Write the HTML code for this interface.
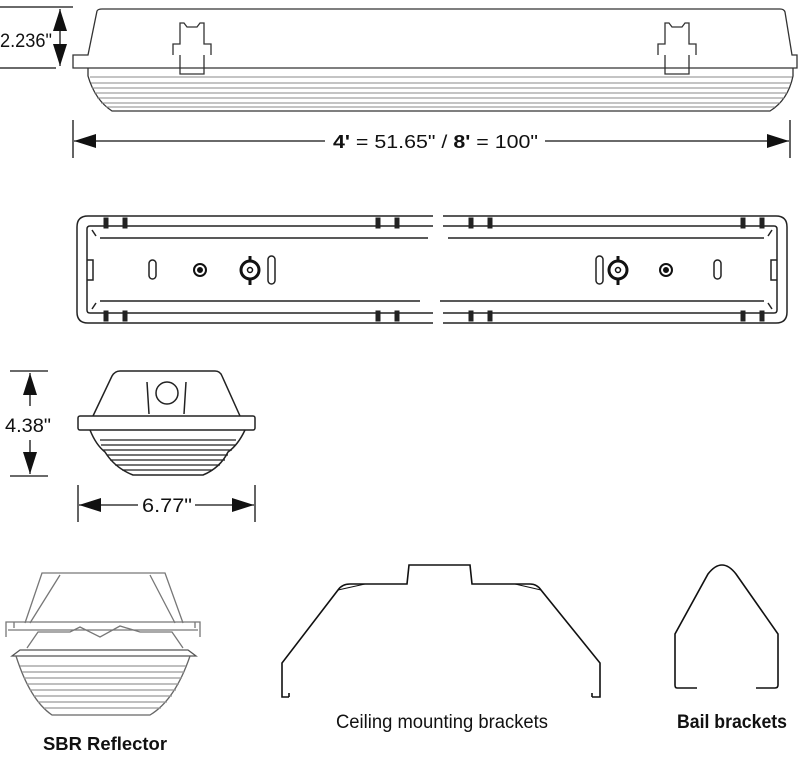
<!DOCTYPE html>
<html><head><style>
html,body{margin:0;padding:0;background:#fff;}
svg{display:block;}
text{font-family:"Liberation Sans",sans-serif;fill:#111;}
</style></head><body>
<svg width="800" height="770" viewBox="0 0 800 770" xmlns="http://www.w3.org/2000/svg">
<defs>
<marker id="ah2" viewBox="0 0 10 10" refX="10" refY="5" markerWidth="22" markerHeight="14" orient="auto-start-reverse" markerUnits="userSpaceOnUse" preserveAspectRatio="none"><path d="M0,0 L10,5 L0,10 z" fill="#111"/></marker>
</defs>
<g fill="none" stroke="#333" stroke-width="1.3">
<path d="M73,55 L88,55 L97,11 Q98,9 102,9 L780,9 Q784,9 785,12 L792,55 L797,55 L797,68 L73,68 Z"/>
<path d="M88,68 L88,76 Q95,100 112,111 L770,111 Q788,100 793,76 L793,68" />
<g stroke="#888" stroke-width="1">
<line x1="90" y1="77" x2="792" y2="77"/><line x1="91" y1="83" x2="791" y2="83"/>
<line x1="92" y1="88" x2="789" y2="88"/><line x1="94" y1="93" x2="787" y2="93"/>
<line x1="97" y1="98" x2="784" y2="98"/><line x1="101" y1="103" x2="780" y2="103"/>
<line x1="106" y1="107" x2="775" y2="107"/>
</g>
<path d="M173,55 L173,44 L180,44 L180,23 L184,23 L187,27 L197,27 L200,23 L204,23 L204,44 L211,44 L211,55" />
<path d="M180,55 L180,74 L204,74 L204,55" />
<path d="M658,55 L658,44 L665,44 L665,23 L669,23 L672,27 L682,27 L685,23 L689,23 L689,44 L696,44 L696,55" />
<path d="M665,55 L665,74 L689,74 L689,55" />
</g>
<g stroke="#111" stroke-width="1.3" fill="none">
<line x1="0" y1="7" x2="73" y2="7"/><line x1="0" y1="68" x2="56" y2="68"/>
<line x1="60" y1="9" x2="60" y2="66" marker-start="url(#ah2)" marker-end="url(#ah2)"/>
<line x1="73" y1="120" x2="73" y2="158"/><line x1="790" y1="120" x2="790" y2="158"/>
<line x1="74" y1="141" x2="325" y2="141" marker-start="url(#ah2)"/>
<line x1="545" y1="141" x2="789" y2="141" marker-end="url(#ah2)"/>
</g>
<text x="0" y="47" font-size="19" textLength="52" lengthAdjust="spacingAndGlyphs">2.236"</text>
<text x="333" y="148" font-size="18" textLength="205" lengthAdjust="spacingAndGlyphs"><tspan font-weight="bold">4'</tspan> = 51.65" / <tspan font-weight="bold">8'</tspan> = 100"</text>

<g fill="none" stroke="#222" stroke-width="1.5">
<path d="M433,216 L88,216 Q77,216 77,227 L77,312 Q77,323 88,323 L433,323"/>
<path d="M433,226 L90,226 Q87,226 87,229 L87,310 Q87,313 90,313 L433,313"/>
<line x1="100" y1="238" x2="428" y2="238"/><line x1="100" y1="301" x2="420" y2="301"/>
<path d="M443,216 L776,216 Q787,216 787,227 L787,312 Q787,323 776,323 L443,323"/>
<path d="M443,226 L774,226 Q777,226 777,229 L777,310 Q777,313 774,313 L443,313"/>
<line x1="448" y1="238" x2="764" y2="238"/><line x1="440" y1="301" x2="764" y2="301"/>
<path d="M87,260 L93,260 L93,280 L87,280"/><path d="M777,260 L771,260 L771,280 L777,280"/>
<line x1="92" y1="230" x2="96" y2="236"/><line x1="92" y1="309" x2="96" y2="303"/>
<line x1="772" y1="230" x2="768" y2="236"/><line x1="772" y1="309" x2="768" y2="303"/>
<rect x="149" y="260" width="7" height="19" rx="3.5"/>
<rect x="268" y="256" width="7" height="28" rx="3.5"/>
<rect x="714" y="260" width="7" height="19" rx="3.5"/>
<rect x="596" y="256" width="7" height="28" rx="3.5"/>
</g>
<g fill="#222" stroke="#222">
<rect x="104" y="218" width="4" height="10"/><rect x="123" y="218" width="4" height="10"/>
<rect x="104" y="311" width="4" height="10"/><rect x="123" y="311" width="4" height="10"/>
<rect x="376" y="218" width="4" height="10"/><rect x="395" y="218" width="4" height="10"/>
<rect x="376" y="311" width="4" height="10"/><rect x="395" y="311" width="4" height="10"/>
<rect x="469" y="218" width="4" height="10"/><rect x="488" y="218" width="4" height="10"/>
<rect x="469" y="311" width="4" height="10"/><rect x="488" y="311" width="4" height="10"/>
<rect x="741" y="218" width="4" height="10"/><rect x="760" y="218" width="4" height="10"/>
<rect x="741" y="311" width="4" height="10"/><rect x="760" y="311" width="4" height="10"/>
</g>
<g stroke="#111" fill="#fff">
<circle cx="200" cy="270" r="6" stroke-width="2"/><circle cx="200" cy="270" r="2.5" fill="#111"/>
<line x1="250" y1="256" x2="250" y2="285" stroke-width="3"/>
<circle cx="250" cy="270" r="9" stroke-width="3"/><circle cx="250" cy="270" r="2.5" fill="#fff" stroke-width="1.5"/>
<circle cx="666" cy="270" r="6" stroke-width="2"/><circle cx="666" cy="270" r="2.5" fill="#111"/>
<line x1="618" y1="256" x2="618" y2="285" stroke-width="3"/>
<circle cx="618" cy="270" r="9" stroke-width="3"/><circle cx="618" cy="270" r="2.5" fill="#fff" stroke-width="1.5"/>
</g>

<g fill="none" stroke="#222" stroke-width="1.5">
<path d="M93,416 L112,376 Q115,371 120,371 L215,371 Q220,371 222,376 L240,416"/>
<rect x="78" y="416" width="177" height="14" rx="2"/>
<line x1="147" y1="382" x2="149" y2="414"/><line x1="186" y1="382" x2="184" y2="414"/>
<circle cx="167" cy="393" r="11"/>
<path d="M90,430 Q96,445 105,452 Q115,468 133,475 L203,475 Q220,468 228,452 Q238,445 245,430"/>
<g stroke-width="1.2">
<line x1="100" y1="440" x2="236" y2="440"/><line x1="101" y1="445" x2="235" y2="445"/>
<line x1="103" y1="450" x2="232" y2="450"/><line x1="107" y1="455" x2="228" y2="455"/>
<line x1="110" y1="460" x2="225" y2="460"/><line x1="115" y1="465" x2="220" y2="465"/>
<line x1="122" y1="470" x2="213" y2="470"/>
</g>
</g>
<g stroke="#111" stroke-width="1.3" fill="none">
<line x1="10" y1="371" x2="48" y2="371"/><line x1="10" y1="476" x2="48" y2="476"/>
<line x1="30" y1="373" x2="30" y2="406" marker-start="url(#ah2)"/>
<line x1="30" y1="440" x2="30" y2="474" marker-end="url(#ah2)"/>
<line x1="78" y1="485" x2="78" y2="522"/><line x1="255" y1="485" x2="255" y2="522"/>
<line x1="79" y1="505" x2="138" y2="505" marker-start="url(#ah2)"/>
<line x1="195" y1="505" x2="254" y2="505" marker-end="url(#ah2)"/>
</g>
<text x="5" y="432" font-size="19" textLength="46" lengthAdjust="spacingAndGlyphs">4.38"</text>
<text x="142" y="512" font-size="19" textLength="50" lengthAdjust="spacingAndGlyphs">6.77"</text>

<g fill="none" stroke="#777" stroke-width="1.3">
<path d="M25,623 L42,573 L165,573 L183,623"/>
<path d="M30,623 L60,575 M175,623 L150,575"/>
<path d="M6,637 L6,622 L14,622 L14,628 M14,622 L195,622 L195,628 M195,622 L200,622 L200,637"/>
<line x1="8" y1="630" x2="198" y2="630"/>
<path d="M27,648 L38,632 L70,632 L80,627 L100,637 L120,626 L140,632 L172,632 L183,648"/>
<path d="M12,656 L20,650 L188,650 L196,656 L12,656 Z" stroke="#555"/>
<path d="M16,656 Q30,700 52,715 L150,715 Q175,700 190,656" stroke="#666"/>
<g stroke="#999" stroke-width="1.2">
<line x1="20" y1="666" x2="186" y2="666"/><line x1="22" y1="672" x2="184" y2="672"/>
<line x1="24" y1="678" x2="182" y2="678"/><line x1="27" y1="684" x2="179" y2="684"/>
<line x1="30" y1="690" x2="176" y2="690"/><line x1="34" y1="696" x2="172" y2="696"/>
<line x1="38" y1="702" x2="167" y2="702"/><line x1="44" y1="708" x2="161" y2="708"/>
</g>
</g>
<text x="105" y="750" font-size="18" font-weight="bold" text-anchor="middle" textLength="124" lengthAdjust="spacingAndGlyphs">SBR Reflector</text>

<g fill="none" stroke="#111" stroke-width="1.6">
<path d="M289,697 L282,697 L282,663 L338,590 Q342,584 350,584 L407,584 L409,565 L470,565 L472,584 L530,584 Q537,584 541,590 L600,663 L600,697 L592,697"/>
<path d="M338,590 L365,584 M541,590 L515,584" stroke-width="1"/>
<path d="M289,697 L289,693 M592,697 L592,693"/>
<path d="M697,688 L677,688 Q675,688 675,685 L675,634 L708,574 Q722,556 736,574 L778,634 L778,685 Q778,688 775,688 L756,688"/>
</g>
<text x="442" y="728" font-size="19" text-anchor="middle" textLength="212" lengthAdjust="spacingAndGlyphs">Ceiling mounting brackets</text>
<text x="732" y="728" font-size="19" font-weight="bold" text-anchor="middle" textLength="110" lengthAdjust="spacingAndGlyphs">Bail brackets</text>
</svg>
</body></html>
